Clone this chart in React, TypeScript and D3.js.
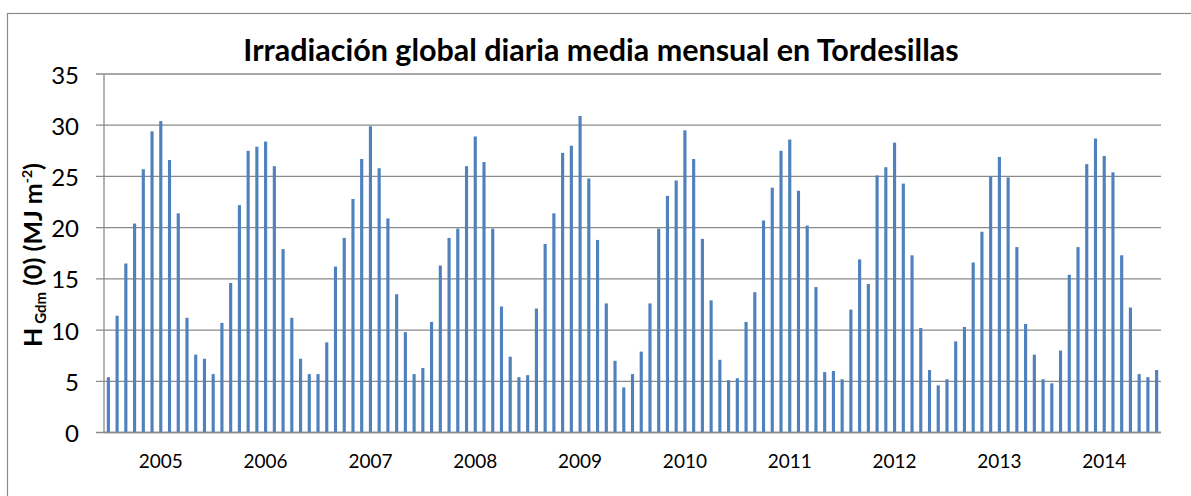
import * as d3 from "d3";

// monthly mean daily global irradiation, MJ m-2 (Jan..Dec)
const years = ["2005", "2006", "2007", "2008", "2009", "2010", "2011", "2012", "2013", "2014"];
const h2005 = [5.4, 11.4, 16.5, 20.4, 25.7, 29.4, 30.4, 26.6, 21.4, 11.2, 7.6, 7.2];
const h2006 = [5.7, 10.7, 14.6, 22.2, 27.5, 27.9, 28.4, 26.0, 17.9, 11.2, 7.2, 5.7];
const h2007 = [5.7, 8.8, 16.2, 19.0, 22.8, 26.7, 29.9, 25.8, 20.9, 13.5, 9.8, 5.7];
const h2008 = [6.3, 10.8, 16.3, 19.0, 19.9, 26.0, 28.9, 26.4, 19.9, 12.3, 7.4, 5.4];
const h2009 = [5.6, 12.1, 18.4, 21.4, 27.3, 28.0, 30.9, 24.8, 18.8, 12.6, 7.0, 4.4];
const h2010 = [5.7, 7.9, 12.6, 19.9, 23.1, 24.6, 29.5, 26.7, 18.9, 12.9, 7.1, 5.1];
const h2011 = [5.3, 10.8, 13.7, 20.7, 23.9, 27.5, 28.6, 23.6, 20.2, 14.2, 5.9, 6.0];
const h2012 = [5.2, 12.0, 16.9, 14.5, 25.1, 25.9, 28.3, 24.3, 17.3, 10.2, 6.1, 4.6];
const h2013 = [5.2, 8.9, 10.3, 16.6, 19.6, 25.0, 26.9, 24.9, 18.1, 10.6, 7.6, 5.2];
const h2014 = [4.8, 8.0, 15.4, 18.1, 26.2, 28.7, 27.0, 25.4, 17.3, 12.2, 5.7, 5.4];
const h2015 = [6.1]; // only January
const yTicks = [0, 5, 10, 15, 20, 25, 30, 35];

const series = [h2005, h2006, h2007, h2008, h2009, h2010, h2011, h2012, h2013, h2014, h2015];

export default function App() {
  const width = 1191;
  const height = 496;
  const marginLeft = 104;
  const marginRight = 30;
  const marginTop = 74;
  const plotBottom = 432.5;

  const values = series.flat();
  const data = values.map((v, i) => ({ key: i, value: v }));

  const x = d3
    .scaleBand<number>()
    .domain(data.map((d) => d.key))
    .range([marginLeft, width - marginRight])
    .paddingInner(0.64)
    .paddingOuter(0.32);

  const y = d3.scaleLinear().domain([0, 35]).range([plotBottom, marginTop]);

  const font = "Lato, 'Open Sans', sans-serif";
  const grid = "#8a8a8a";

  return (
    <svg
      width={width}
      height={height}
      style={{ position: "absolute", left: 0, top: 0, background: "#fff" }}
    >
      {/* outer frame */}
      <rect x={7.5} y={13.5} width={1200} height={500} fill="none" stroke={grid} strokeWidth={1.2} />

      {/* title */}
      <text
        x={601}
        y={61}
        textAnchor="middle"
        fontFamily={font}
        fontWeight="bold"
        fontSize={30.5}
        fill="#000"
      >
        Irradiación global diaria media mensual en Tordesillas
      </text>

      {/* gridlines + y ticks */}
      {yTicks.map((t) => (
        <g key={t}>
          <line
            x1={marginLeft - 8}
            x2={width - marginRight}
            y1={y(t)}
            y2={y(t)}
            stroke={grid}
            strokeWidth={1.3}
          />
          <text
            x={79}
            y={y(t)}
            textAnchor="end"
            dominantBaseline="central"
            fontFamily={font}
            fontSize={24}
            fill="#000"
          >
            {t}
          </text>
        </g>
      ))}

      {/* y axis line */}
      <line x1={marginLeft} x2={marginLeft} y1={marginTop} y2={plotBottom} stroke={grid} strokeWidth={1.3} />

      {/* bars */}
      {data.map((d) => (
        <rect
          key={d.key}
          x={x(d.key)}
          y={y(d.value)}
          width={x.bandwidth()}
          height={y(0) - y(d.value)}
          fill="#4f81bd"
        />
      ))}

      {/* x axis line */}
      <line x1={marginLeft} x2={width - marginRight} y1={plotBottom} y2={plotBottom} stroke={grid} strokeWidth={1.3} />

      {/* year labels under July of each year */}
      {years.map((yr, i) => (
        <text
          key={yr}
          x={(x(i * 12 + 6) ?? 0) + x.bandwidth() / 2}
          y={468}
          textAnchor="middle"
          fontFamily={font}
          fontSize={19}
          fill="#000"
        >
          {yr}
        </text>
      ))}

      {/* y axis title */}
      <text
        transform="translate(42, 255) rotate(-90)"
        textAnchor="middle"
        fontFamily={font}
        fontWeight="bold"
        fontSize={25}
        fill="#000"
      >
        <tspan>H</tspan>
        <tspan fontSize={15} dy={4} dx={4}>Gdm</tspan>
        <tspan dy={-4}> (0) (MJ m</tspan>
        <tspan fontSize={14} dy={-10}>-2</tspan>
        <tspan dy={10}>)</tspan>
      </text>
    </svg>
  );
}
